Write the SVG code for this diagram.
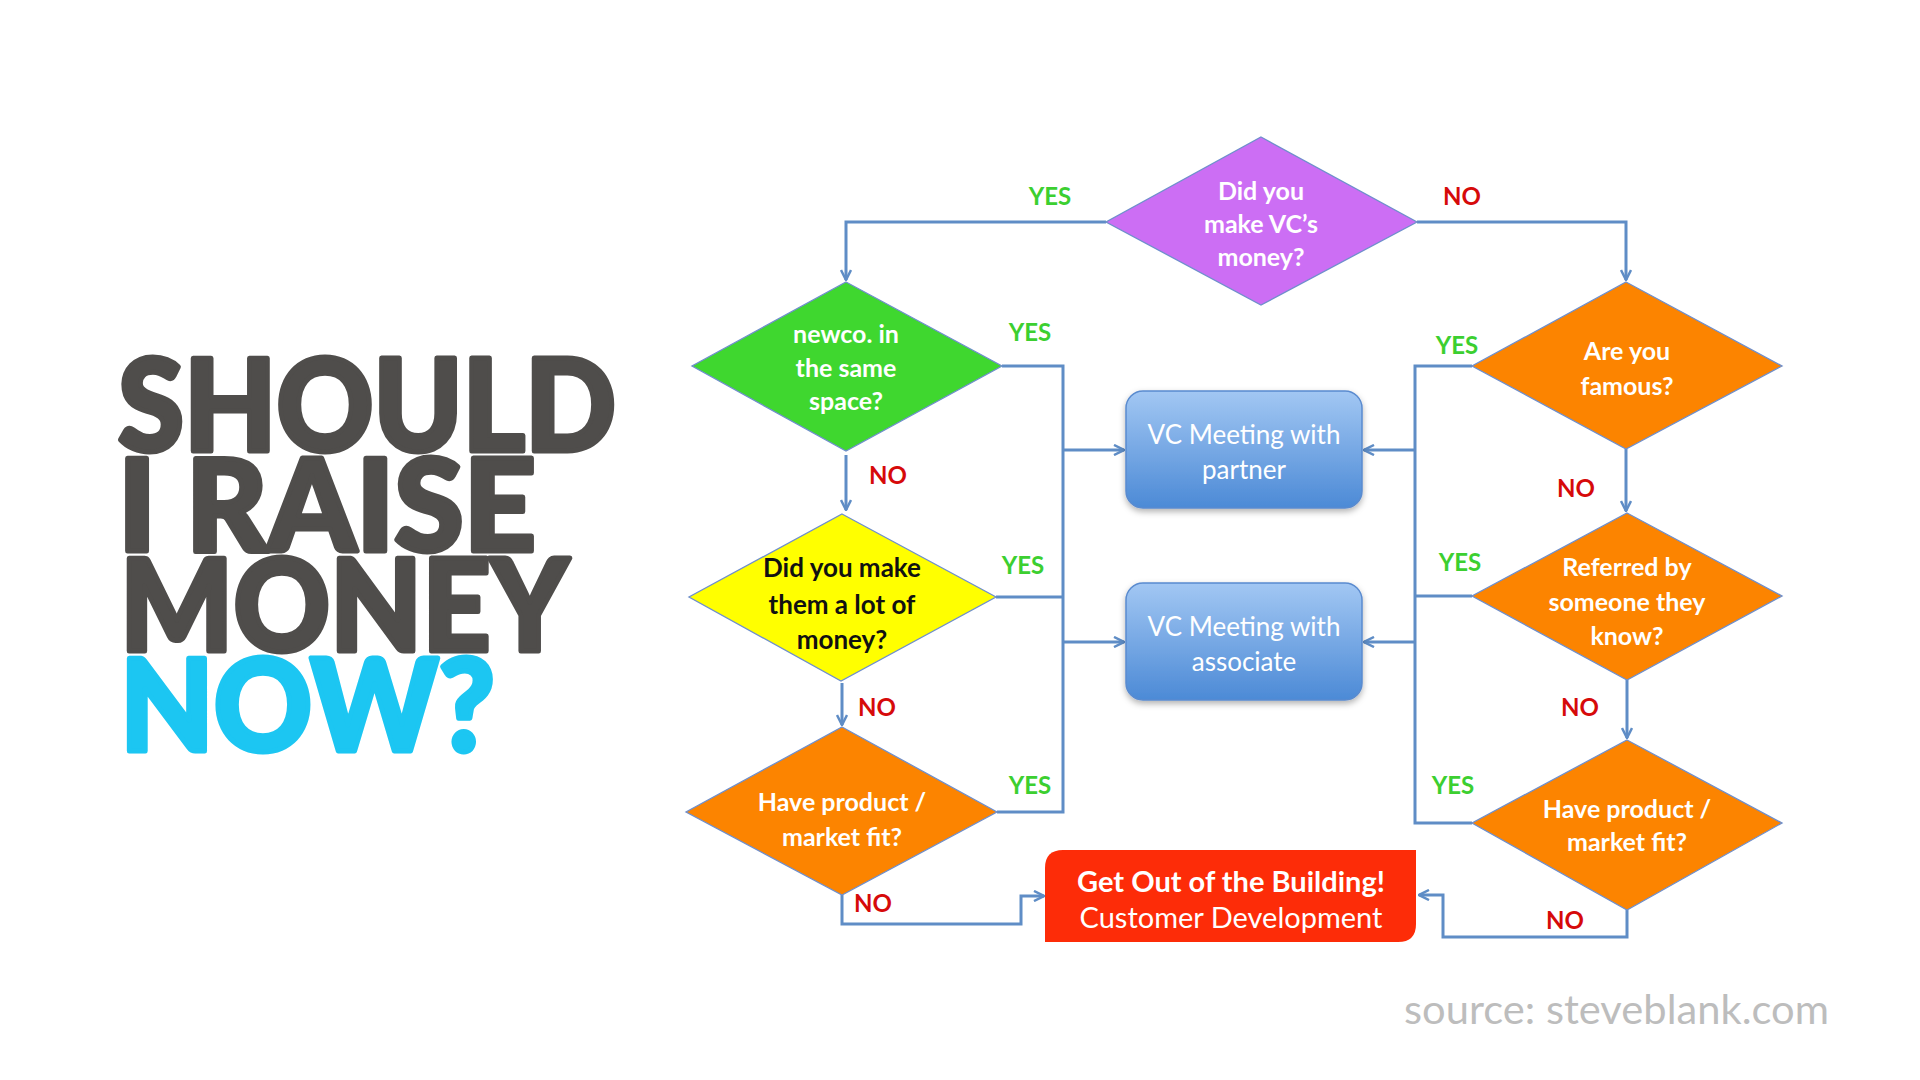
<svg xmlns="http://www.w3.org/2000/svg" width="1920" height="1080" viewBox="0 0 1920 1080">
<style>
.title{font-family:Lato,"Liberation Sans",sans-serif;font-weight:900;font-size:128px;stroke-width:5;stroke-linejoin:round}
.gray{fill:#4f4d4b;stroke:#4f4d4b}
.cyan{fill:#1cc6f2;stroke:#1cc6f2}
.dt{font-family:Lato,"Liberation Sans",sans-serif;font-weight:700;font-size:25px;fill:#fff;text-anchor:middle}
.bt{font-family:Lato,"Liberation Sans",sans-serif;font-weight:400;font-size:26px;fill:#fff;text-anchor:middle}
.yes{font-family:Lato,"Liberation Sans",sans-serif;font-weight:700;font-size:24px;fill:#3ccf30;text-anchor:middle}
.no{font-family:Lato,"Liberation Sans",sans-serif;font-weight:700;font-size:24px;fill:#d60a0a;text-anchor:middle}
.dia{stroke:#6f8fcc;stroke-width:1.3}
.con{fill:none;stroke:#5f8dc6;stroke-width:3;stroke-linejoin:miter}
.box{fill:url(#bg);stroke:#5a8bcf;stroke-width:1.5;filter:url(#sh)}
</style>
<defs>
<linearGradient id="bg" x1="0" y1="0" x2="0" y2="1">
<stop offset="0" stop-color="#a2c7f3"/>
<stop offset="1" stop-color="#4c8ad6"/>
</linearGradient>
<filter id="sh" x="-10%" y="-10%" width="120%" height="130%">
<feDropShadow dx="0" dy="3" stdDeviation="3" flood-color="#000" flood-opacity="0.3"/>
</filter>
<marker id="arr" viewBox="0 0 12 12" refX="11" refY="6" markerWidth="12" markerHeight="12" markerUnits="userSpaceOnUse" orient="auto">
<path d="M1,1 L11,6 L1,11" fill="none" stroke="#5f8dc6" stroke-width="2.5"/>
</marker>
</defs>
<rect width="1920" height="1080" fill="#fff"/>

<g id="title">
<text class="title gray" x="118" y="451" textLength="498" lengthAdjust="spacingAndGlyphs">SHOULD</text>
<text class="title gray" x="118" y="551" textLength="418" lengthAdjust="spacingAndGlyphs">I RAISE</text>
<text class="title gray" x="120" y="651" textLength="449" lengthAdjust="spacingAndGlyphs">MONEY</text>
<text class="title cyan" x="120" y="751" textLength="375" lengthAdjust="spacingAndGlyphs">NOW?</text>
</g>

<g id="connectors">
<path class="con" d="M1106,222 H846 V280" marker-end="url(#arr)"/>
<path class="con" d="M1417,222 H1626 V280" marker-end="url(#arr)"/>
<path class="con" d="M1002,366 H1063 V812 H997"/>
<path class="con" d="M996,597 H1063"/>
<path class="con" d="M1063,450 H1124" marker-end="url(#arr)"/>
<path class="con" d="M1063,642 H1124" marker-end="url(#arr)"/>
<path class="con" d="M846,455 V510" marker-end="url(#arr)"/>
<path class="con" d="M842,683 V725" marker-end="url(#arr)"/>
<path class="con" d="M842,895 V924 H1021 V896 H1044" marker-end="url(#arr)"/>
<path class="con" d="M1472,366 H1415 V823 H1472"/>
<path class="con" d="M1472,596 H1415"/>
<path class="con" d="M1415,450 H1364" marker-end="url(#arr)"/>
<path class="con" d="M1415,642 H1364" marker-end="url(#arr)"/>
<path class="con" d="M1626,449 V511" marker-end="url(#arr)"/>
<path class="con" d="M1627,680 V738" marker-end="url(#arr)"/>
<path class="con" d="M1627,910 V937 H1443 V895 H1419" marker-end="url(#arr)"/>
</g>

<g id="labels">
<text class="yes" x="1050" y="205">YES</text>
<text class="no" x="1462" y="205">NO</text>
<text class="yes" x="1030" y="341">YES</text>
<text class="no" x="888" y="484">NO</text>
<text class="yes" x="1023" y="574">YES</text>
<text class="no" x="877" y="716">NO</text>
<text class="yes" x="1030" y="794">YES</text>
<text class="no" x="873" y="912">NO</text>
<text class="yes" x="1457" y="354">YES</text>
<text class="no" x="1576" y="497">NO</text>
<text class="yes" x="1460" y="571">YES</text>
<text class="no" x="1580" y="716">NO</text>
<text class="yes" x="1453" y="794">YES</text>
<text class="no" x="1565" y="929">NO</text>
</g>

<g id="q-vc-money">
<polygon class="dia" points="1261,137 1417,222 1261,305 1106,222" fill="#cc6ef4"/>
<text class="dt" x="1261" y="200">Did you</text>
<text class="dt" x="1261" y="233">make VC’s</text>
<text class="dt" x="1261" y="266">money?</text>
</g>

<g id="q-newco">
<polygon class="dia" points="846,282 1002,366 846,451 692,366" fill="#3fd72f"/>
<text class="dt" x="846" y="343">newco. in</text>
<text class="dt" x="846" y="377">the same</text>
<text class="dt" x="846" y="410">space?</text>
</g>

<g id="q-lot-of-money">
<polygon class="dia" points="842,514 996,597 841,681 689,597" fill="#ffff00" stroke="none"/>
<text class="dt" x="842" y="577" style="fill:#111;font-size:26px">Did you make</text>
<text class="dt" x="842" y="614" style="fill:#111;font-size:26px">them a lot of</text>
<text class="dt" x="842" y="649" style="fill:#111;font-size:26px">money?</text>
</g>

<g id="q-pmf-left">
<polygon class="dia" points="842,727 997,812 842,895 686,812" fill="#fc8400"/>
<text class="dt" x="842" y="811">Have product /</text>
<text class="dt" x="842" y="846">market fit?</text>
</g>

<g id="q-famous">
<polygon class="dia" points="1626,282 1782,366 1626,449 1472,366" fill="#fc8400"/>
<text class="dt" x="1627" y="360">Are you</text>
<text class="dt" x="1627" y="395">famous?</text>
</g>

<g id="q-referred">
<polygon class="dia" points="1627,513 1782,596 1627,680 1472,596" fill="#fc8400"/>
<text class="dt" x="1627" y="576">Referred by</text>
<text class="dt" x="1627" y="611">someone they</text>
<text class="dt" x="1627" y="645">know?</text>
</g>

<g id="q-pmf-right">
<polygon class="dia" points="1627,740 1782,823 1627,910 1472,823" fill="#fc8400"/>
<text class="dt" x="1627" y="818">Have product /</text>
<text class="dt" x="1627" y="851">market fit?</text>
</g>

<g id="vc-partner">
<rect class="box" x="1126" y="391" width="236" height="117" rx="17"/>
<text class="bt" x="1244" y="444">VC Meeting with</text>
<text class="bt" x="1244" y="479">partner</text>
</g>

<g id="vc-associate">
<rect class="box" x="1126" y="583" width="236" height="117" rx="17"/>
<text class="bt" x="1244" y="636">VC Meeting with</text>
<text class="bt" x="1244" y="671">associate</text>
</g>

<g id="get-out">
<path d="M1063,850 H1416 V924 Q1416,942 1398,942 H1045 V868 Q1045,850 1063,850 Z" fill="#fd2c08"/>
<text class="dt" x="1231" y="892" style="font-size:29px">Get Out of the Building!</text>
<text class="bt" x="1231" y="928" style="font-size:29px">Customer Development</text>
</g>

<text x="1404" y="1024" font-family="Lato, 'Liberation Sans', sans-serif" font-size="40" fill="#bdbdbd" textLength="425" lengthAdjust="spacingAndGlyphs">source: steveblank.com</text>
</svg>
